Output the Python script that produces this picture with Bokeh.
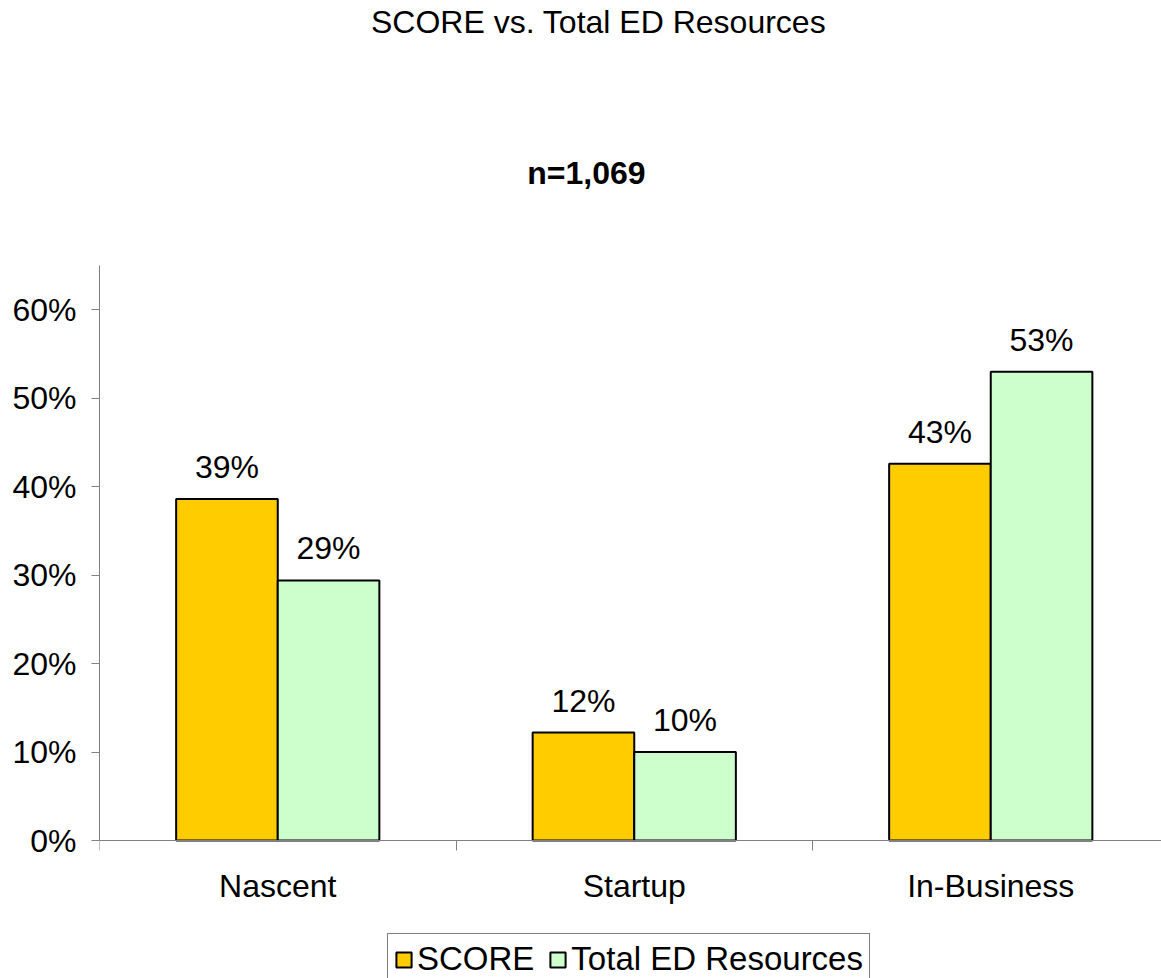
from bokeh.plotting import figure
from bokeh.models import (ColumnDataSource, Range1d, FixedTicker, Label, LabelSet,
                          Legend, LegendItem, NumeralTickFormatter)
from bokeh.core.properties import value
from bokeh.embed import file_html
from bokeh.resources import INLINE

# ---- data ----
categories = ["Nascent", "Startup", "In-Business"]
series_names = ["SCORE", "Total ED Resources"]
score = [0.386, 0.122, 0.426]
total_ed = [0.294, 0.100, 0.530]
y_ticks = [0.0, 0.1, 0.2, 0.3, 0.4, 0.5, 0.6]
series_colors = ["#FFCC00", "#CCFFCC"]
title_text = "SCORE vs. Total ED Resources"
subtitle_text = "n=1,069"

FONT = "Liberation Sans"
CAT = 2.0            # data units per category
BAR_W = 0.285 * CAT  # bar width
FS = "32px"
Y_TOP = 0.65         # top of value axis

centers = [CAT * i + CAT / 2 for i in range(len(categories))]
bounds = [CAT * i for i in range(len(categories) + 1)]

p = figure(width=1161, height=978,
           x_range=Range1d(0, CAT * 1062 / 356.5),
           y_range=Range1d(-0.156, 0.9496),
           output_backend="svg", toolbar_location=None,
           min_border_left=99, min_border_right=0, min_border_top=0,
           min_border_bottom=0)
p.outline_line_color = None
p.xgrid.visible = False
p.ygrid.visible = False
p.background_fill_color = "white"
p.border_fill_color = "white"

renderers = []
for k, (vals, col) in enumerate(zip([score, total_ed], series_colors)):
    off = (-0.5 if k == 0 else 0.5) * BAR_W
    xs = [c + off for c in centers]
    src = ColumnDataSource(dict(x=xs, top=vals,
                                lab=[f"{round(v * 100)}%" for v in vals]))
    r = p.vbar(x="x", top="top", bottom=0, width=BAR_W, source=src,
               fill_color=col, line_color="black", line_width=2)
    renderers.append(r)
    p.add_layout(LabelSet(x="x", y="top", text="lab", source=src,
                          text_font=value(FONT), text_font_size=value(FS),
                          text_align="center", text_baseline="alphabetic",
                          text_color="black", y_offset=21))

# value axis
ya = p.yaxis[0]
ya.ticker = FixedTicker(ticks=y_ticks)
ya.formatter = NumeralTickFormatter(format="0%")
ya.bounds = (0, Y_TOP)
ya.axis_line_color = "#808080"
ya.major_tick_line_color = "#808080"
ya.major_tick_out = 8
ya.major_tick_in = 0
ya.minor_tick_line_color = None
ya.major_label_text_font = FONT
ya.major_label_text_font_size = FS
ya.major_label_text_color = "black"
ya.major_label_standoff = 15

# category axis, drawn at value 0
xa = p.xaxis[0]
xa.fixed_location = 0
xa.ticker = FixedTicker(ticks=centers, minor_ticks=bounds)
xa.major_label_overrides = {int(c): n for c, n in zip(centers, categories)}
xa.axis_line_color = "#808080"
xa.major_tick_line_color = None
xa.major_tick_out = 0
xa.major_tick_in = 0
xa.minor_tick_line_color = "#808080"
xa.minor_tick_out = 10
xa.minor_tick_in = 0
xa.major_label_text_font = FONT
xa.major_label_text_font_size = FS
xa.major_label_text_color = "black"
xa.major_label_standoff = 17

# titles
p.add_layout(Label(x=CAT * 1.40, y=0.925, text=title_text, text_font=FONT,
                   text_font_size=FS, text_align="center",
                   text_baseline="middle", text_color="black"))
p.add_layout(Label(x=CAT * 1.366, y=0.755, text=subtitle_text, text_font=FONT,
                   text_font_size=FS, text_font_style="bold", text_align="center",
                   text_baseline="middle", text_color="black"))

legend = Legend(items=[LegendItem(label=n, renderers=[r])
                       for n, r in zip(series_names, renderers)],
                orientation="horizontal", location=(288, -7),
                border_line_color="black", border_line_width=1,
                background_fill_color="white",
                label_text_font=FONT, label_text_font_size="33px",
                label_text_color="black",
                glyph_width=19, glyph_height=19, label_standoff=4,
                spacing=14, padding=6, margin=0)
p.add_layout(legend, "center")

open("out.html", "w").write(file_html(p, INLINE))
